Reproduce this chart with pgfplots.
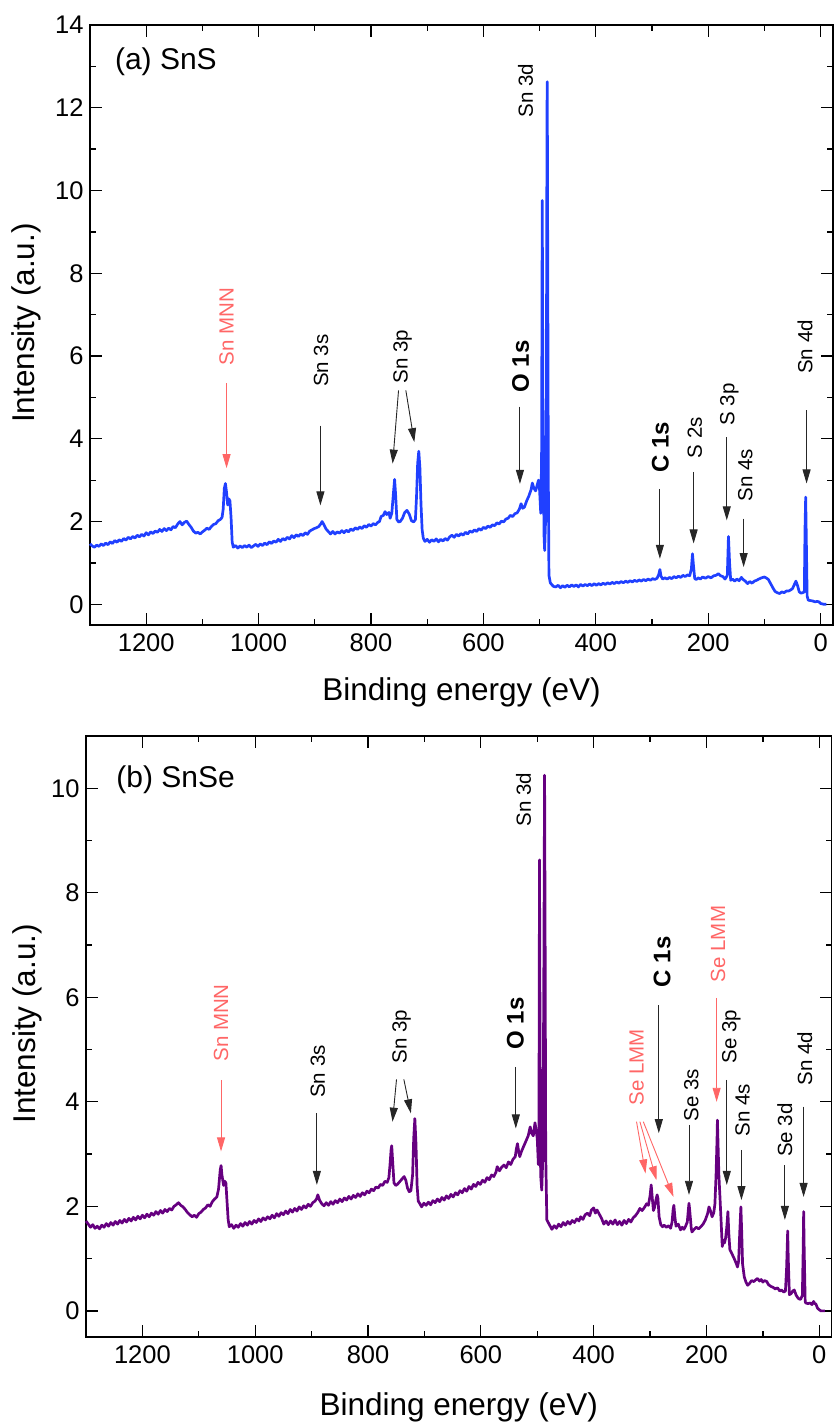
\documentclass[border=0pt]{standalone}
\usepackage{fontspec}
\setmainfont{Liberation Sans}
\usepackage{pgfplots}
\pgfplotsset{compat=1.18}
\usetikzlibrary{arrows.meta}
\definecolor{sblue}{RGB}{32,64,255}
\definecolor{spurple}{RGB}{102,0,128}
\definecolor{sred}{RGB}{255,102,102}
\pgfplotsset{
  xps/.style={
    scale only axis, x dir=reverse, xmin=-22, xmax=1300,
    xtick={0,200,...,1200}, minor x tick num=1, minor y tick num=1,
    tick align=inside, major tick length=12pt, minor tick length=6pt,
    axis line style={line width=1.4pt}, every tick/.style={line width=1.3pt, black},
    /pgf/number format/assume math mode=true,
    /pgf/number format/1000 sep={},
    ticklabel style={font=\fontsize{25.5}{30}\selectfont},
    xticklabel style={yshift=-5pt},
    yticklabel style={xshift=-3pt},
    xlabel={Binding energy (eV)}, ylabel={Intensity (a.u.)},
    label style={font=\fontsize{31.5}{36}\selectfont},
    clip=false,
  },
}
\tikzset{
  ann/.style={rotate=90, anchor=center, inner sep=0pt, font=\fontsize{20.5}{24}\selectfont},
  annb/.style={rotate=90, anchor=center, inner sep=0pt, font=\fontsize{24}{28}\selectfont\bfseries},
  arr/.style={black!85, line width=0.9pt, -{Triangle[length=14pt,width=8pt]}},
  rarr/.style={sred, line width=0.9pt, -{Triangle[length=14pt,width=8pt]}},
}
\begin{document}
\begin{tikzpicture}
\path[use as bounding box] (0pt,0pt) rectangle (834pt,1425pt);
% ---------------- (a) SnS ----------------
\begin{axis}[xps, at={(90pt,800pt)}, anchor=south west, width=743pt, height=600pt,
  ymin=-0.5, ymax=14, ytick={0,2,...,14},
  xlabel style={at={(axis description cs:0.5,-0.113)}, anchor=center},
  ylabel style={at={(axis description cs:-0.085,0.503)}, anchor=center}]
\addplot[sblue, line width=2.7pt, line join=round] table {
1300 1.46
1296 1.41
1292 1.38
1288 1.43
1284 1.40
1280 1.46
1276 1.42
1272 1.48
1268 1.44
1264 1.51
1260 1.47
1256 1.54
1252 1.50
1248 1.56
1244 1.52
1240 1.59
1236 1.55
1232 1.62
1228 1.58
1224 1.64
1220 1.60
1216 1.67
1212 1.63
1208 1.69
1204 1.65
1200 1.73
1196 1.68
1192 1.75
1188 1.71
1184 1.77
1180 1.74
1176 1.81
1172 1.76
1168 1.83
1164 1.78
1160 1.84
1156 1.80
1152 1.88
1148 1.85
1144 1.94
1140 2.00
1136 1.92
1132 1.98
1128 2.01
1124 1.93
1120 1.86
1116 1.77
1112 1.72
1108 1.74
1104 1.70
1100 1.75
1096 1.79
1092 1.84
1088 1.81
1084 1.88
1080 1.93
1076 1.95
1072 2.02
1068 2.05
1065 2.10
1063 2.30
1061 2.80
1059 2.92
1057 2.70
1055 2.40
1053 2.55
1051 2.50
1049 2.10
1047 1.50
1045 1.38
1041 1.42
1037 1.36
1033 1.41
1029 1.37
1025 1.42
1021 1.38
1017 1.43
1013 1.37
1009 1.41
1005 1.45
1001 1.40
997 1.46
993 1.42
989 1.48
985 1.44
981 1.51
977 1.47
973 1.53
969 1.50
965 1.57
961 1.52
957 1.59
953 1.55
949 1.62
945 1.58
941 1.66
937 1.61
933 1.68
929 1.64
925 1.70
921 1.66
917 1.73
913 1.69
909 1.77
905 1.80
901 1.83
897 1.85
893 1.88
889 1.95
887 2.00
884 1.93
880 1.82
876 1.76
872 1.70
868 1.76
864 1.70
860 1.75
856 1.72
852 1.78
848 1.73
844 1.79
840 1.75
836 1.82
832 1.78
828 1.85
824 1.81
820 1.87
816 1.83
812 1.90
808 1.86
804 1.93
800 1.89
796 1.95
792 1.92
788 1.98
785 2.00
782 2.12
778 2.15
775 2.24
772 2.17
768 2.22
766 2.08
763 2.20
760 2.70
758 3.02
756 2.60
754 2.05
751 1.99
748 2.00
744 2.08
740 2.22
736 2.27
732 2.18
728 2.02
724 1.99
721 2.05
719 2.60
717 3.40
715 3.70
713 3.30
711 2.40
709 1.80
707 1.60
704 1.52
700 1.57
696 1.50
692 1.56
688 1.52
684 1.58
680 1.51
676 1.57
672 1.53
668 1.59
664 1.55
660 1.63
656 1.67
652 1.62
648 1.69
644 1.65
640 1.71
636 1.67
632 1.74
628 1.70
624 1.77
620 1.74
616 1.80
612 1.76
608 1.83
604 1.79
600 1.86
596 1.83
592 1.89
588 1.86
584 1.92
580 1.90
576 1.97
572 1.94
568 2.01
564 1.99
560 2.06
556 2.08
552 2.15
548 2.12
544 2.19
540 2.21
536 2.30
533 2.43
530 2.32
527 2.35
523 2.50
519 2.62
515 2.78
513 2.93
510 2.80
507 2.74
504 2.90
502 3.00
500 2.75
498 2.20
496.5 3.50
495.3 9.76
494 4.00
492 1.60
491 1.30
489.5 2.00
488 5.00
486.8 12.00
486.4 12.63
485.5 8.00
484.5 3.00
483.4 0.70
481 0.52
478 0.47
475 0.43
471 0.42
467 0.46
463 0.40
459 0.45
455 0.41
451 0.46
447 0.42
443 0.47
439 0.43
435 0.47
431 0.42
427 0.48
423 0.44
419 0.48
415 0.45
411 0.49
407 0.45
403 0.50
399 0.46
395 0.50
391 0.47
387 0.51
383 0.48
379 0.52
375 0.49
371 0.53
367 0.50
363 0.54
359 0.51
355 0.55
351 0.52
347 0.56
343 0.53
339 0.57
335 0.54
331 0.58
327 0.55
323 0.59
319 0.56
315 0.60
311 0.57
307 0.61
303 0.58
299 0.62
295 0.60
291 0.63
288 0.72
286 0.84
284 0.68
281 0.61
277 0.64
273 0.61
269 0.65
265 0.62
261 0.67
257 0.64
253 0.68
249 0.65
245 0.70
241 0.67
237 0.71
233 0.69
230 0.85
228 1.22
226 0.90
224 0.62
221 0.60
218 0.64
214 0.61
210 0.66
205 0.63
200 0.67
195 0.64
190 0.69
186 0.70
182 0.74
178 0.69
174 0.67
170 0.61
166 0.70
164 1.64
162 1.00
160 0.58
157 0.61
153 0.56
149 0.61
145 0.57
141 0.65
138 0.60
134 0.56
130 0.50
126 0.55
122 0.51
118 0.56
114 0.58
110 0.61
105 0.64
100 0.66
96 0.63
93 0.60
89 0.50
85 0.40
81 0.31
77 0.28
73 0.26
69 0.30
65 0.28
61 0.32
57 0.32
53 0.35
50 0.38
47 0.47
44 0.56
41 0.45
38 0.30
35 0.27
32 0.28
29 0.30
27.8 1.80
26.6 2.59
25.4 1.50
24 0.20
22 0.10
18 0.09
14 0.08
10 0.06
6 0.07
3 0.06
0 0.02
-3 0.01
-6 0.00
-10 0.00
};
\node[anchor=west, font=\fontsize{30}{35}\selectfont] at (rel axis cs:0.029,0.938) {(a) SnS};
% annotations
\node[ann, text=sred] at (axis cs:1057,6.71) {Sn MNN};
\draw[rarr] (axis cs:1057,5.34) -- (axis cs:1057,3.29);
\node[ann] at (axis cs:889,5.89) {Sn 3s};
\draw[arr] (axis cs:890,4.32) -- (axis cs:890,2.39);
\node[ann] at (axis cs:744,5.99) {Sn 3p};
\draw[arr] (axis cs:751,5.17) -- (axis cs:761.5,3.40);
\draw[arr] (axis cs:738,5.17) -- (axis cs:723,3.92);
\node[annb] at (axis cs:534,5.75) {O 1s};
\draw[arr] (axis cs:535,4.78) -- (axis cs:535,2.91);
\node[ann] at (axis cs:525,12.42) {Sn 3d};
\node[annb] at (axis cs:285,3.80) {C 1s};
\draw[arr] (axis cs:286,2.79) -- (axis cs:286,1.10);
\node[ann] at (axis cs:224,4.03) {S 2s};
\draw[arr] (axis cs:226,3.20) -- (axis cs:226,1.47);
\node[ann] at (axis cs:162.6,4.83) {S 3p};
\draw[arr] (axis cs:167,4.04) -- (axis cs:167,2.03);
\node[ann] at (axis cs:134,3.12) {Sn 4s};
\draw[arr] (axis cs:137,2.07) -- (axis cs:137,0.90);
\node[ann] at (axis cs:27.8,6.22) {Sn 4d};
\draw[arr] (axis cs:25,4.69) -- (axis cs:25,2.92);
\end{axis}
% ---------------- (b) SnSe ----------------
\begin{axis}[xps, at={(86pt,88pt)}, anchor=south west, width=745.7pt, height=601pt,
  ymin=-0.5, ymax=11, ytick={0,2,...,10},
  xlabel style={at={(axis description cs:0.5,-0.1165)}, anchor=center},
  ylabel style={at={(axis description cs:-0.079,0.521)}, anchor=center}]
\addplot[spurple, line width=2.7pt, line join=round] table {
1300 1.72
1296 1.66
1292 1.60
1288 1.65
1284 1.58
1280 1.62
1276 1.57
1272 1.64
1268 1.60
1264 1.67
1260 1.62
1256 1.69
1252 1.64
1248 1.71
1244 1.66
1240 1.73
1236 1.68
1232 1.75
1228 1.70
1224 1.77
1220 1.72
1216 1.79
1212 1.74
1208 1.81
1204 1.76
1200 1.83
1196 1.78
1192 1.85
1188 1.80
1184 1.87
1180 1.83
1176 1.90
1172 1.85
1168 1.92
1164 1.87
1160 1.94
1156 1.90
1152 1.96
1148 1.93
1144 2.00
1140 2.03
1136 2.07
1132 2.02
1128 1.99
1124 1.94
1120 1.88
1116 1.84
1112 1.80
1108 1.83
1104 1.79
1100 1.86
1096 1.89
1092 1.94
1088 1.97
1084 2.03
1080 2.00
1076 2.09
1072 2.14
1068 2.18
1065 2.33
1062 2.70
1060.5 2.78
1059 2.60
1056 2.40
1054 2.48
1052 2.45
1050 2.10
1048 1.75
1046 1.61
1042 1.65
1038 1.58
1034 1.64
1030 1.60
1026 1.67
1022 1.62
1018 1.69
1014 1.64
1010 1.71
1006 1.66
1002 1.73
998 1.69
994 1.76
990 1.71
986 1.78
982 1.74
978 1.80
974 1.76
970 1.83
966 1.78
962 1.86
958 1.81
954 1.88
950 1.84
946 1.91
942 1.86
938 1.94
934 1.89
930 1.96
926 1.91
922 1.99
918 1.94
914 2.01
910 1.97
906 2.04
902 2.00
898 2.07
894 2.10
891 2.15
889 2.22
886 2.12
882 2.05
878 2.01
874 2.07
870 2.02
866 2.09
862 2.04
858 2.11
854 2.07
850 2.14
846 2.09
842 2.16
838 2.12
834 2.19
830 2.14
826 2.21
822 2.17
818 2.24
814 2.19
810 2.26
806 2.22
802 2.29
798 2.26
794 2.33
790 2.30
786 2.37
782 2.35
778 2.42
774 2.40
770 2.48
766 2.46
763 2.55
761 2.80
759 3.10
758 3.16
756 2.80
754 2.45
751 2.40
748 2.42
744 2.47
740 2.52
736 2.57
733 2.50
730 2.35
727 2.28
724 2.30
721 2.60
719 3.30
717 3.68
715 3.20
713 2.40
711 2.10
708 2.05
705 1.99
701 2.06
697 2.02
693 2.08
689 2.03
685 2.11
681 2.07
677 2.14
673 2.09
669 2.17
665 2.12
661 2.20
657 2.15
653 2.23
649 2.18
645 2.26
641 2.22
637 2.30
633 2.26
629 2.34
625 2.29
621 2.38
617 2.33
613 2.42
609 2.38
605 2.46
601 2.42
597 2.50
593 2.46
589 2.55
585 2.51
581 2.60
577 2.57
573 2.66
571 2.76
567 2.68
563 2.75
559 2.79
555 2.74
551 2.85
547 2.80
543 2.90
539 2.95
537 3.10
535 3.20
533 3.05
531 2.95
528 3.05
524 3.15
520 3.25
516 3.35
512.5 3.52
510 3.40
507 3.35
504 3.60
502 3.45
500 3.30
498 2.80
497 3.50
496 8.63
495 5.00
494 2.60
492 2.31
490 3.00
488.5 6.00
487 10.25
486 7.00
485 3.00
483 1.74
480 1.68
477 1.62
474 1.56
470 1.63
466 1.58
462 1.66
458 1.61
454 1.69
450 1.64
446 1.71
442 1.66
438 1.73
434 1.69
430 1.76
426 1.72
423 1.80
419 1.75
415 1.84
411 1.87
407 1.82
404 1.93
400 1.97
397 1.87
394 1.93
390 1.85
386 1.77
382 1.66
378 1.72
374 1.65
370 1.72
366 1.66
362 1.74
358 1.65
354 1.71
350 1.64
346 1.73
342 1.67
338 1.75
334 1.70
330 1.78
326 1.82
322 1.88
318 1.96
314 1.92
310 1.98
306 2.05
303 2.02
300 2.20
298 2.41
296 2.15
294 1.92
292 1.98
290 2.10
287.5 2.22
286 2.15
284 1.80
281 1.65
278 1.61
275 1.64
271 1.60
267 1.63
263.6 1.58
261 1.70
259 1.95
257.8 2.02
256 1.80
254 1.62
250 1.66
246 1.55
243 1.60
240 1.56
237 1.62
234 1.70
232 1.95
231 2.06
229.5 1.90
227 1.58
225.7 1.51
222 1.56
218 1.60
214 1.57
210 1.61
206 1.66
202 1.74
198 1.86
195.6 1.99
193 1.92
190 1.80
187 1.88
185 2.05
183 2.60
181 3.40
180.6 3.65
179.5 3.20
178 2.60
176 2.16
174 1.70
172 1.23
170 1.35
168 1.30
166 1.40
164 1.60
162 1.90
160.5 1.50
158.5 1.17
156 1.12
153 1.05
150 0.98
147 0.90
145 0.84
143 0.95
141 1.50
139 1.99
137.5 1.50
136 0.90
133 0.65
130 0.55
127 0.49
124 0.52
120 0.58
116 0.56
112 0.60
109.5 0.62
106 0.57
103 0.60
100 0.55
97 0.58
93 0.56
90 0.50
86 0.47
82 0.45
78 0.42
74 0.44
70 0.38
67 0.40
63 0.36
60 0.38
58 0.80
56 1.53
55 1.00
53 0.31
50 0.33
47 0.38
44.4 0.40
41 0.30
38 0.25
36 0.23
33 0.22
30 0.30
28.5 1.20
27.7 1.90
26.8 1.20
25 0.18
24 0.15
20 0.14
16 0.15
13 0.12
10 0.18
8 0.14
6 0.13
3 0.05
0 0.02
-3 0.00
-10 0.00
};
\node[anchor=west, font=\fontsize{30}{35}\selectfont] at (rel axis cs:0.036,0.927) {(b) SnSe};
% annotations
\node[ann, text=sred] at (axis cs:1060.6,5.51) {Sn MNN};
\draw[rarr] (axis cs:1060.6,4.42) -- (axis cs:1060.6,3.05);
\node[ann] at (axis cs:889,4.58) {Sn 3s};
\draw[arr] (axis cs:890.7,3.78) -- (axis cs:890.7,2.41);
\node[ann] at (axis cs:740.6,5.25) {Sn 3p};
\draw[arr] (axis cs:749.5,4.43) -- (axis cs:756.6,3.62);
\draw[arr] (axis cs:736.5,4.43) -- (axis cs:724,3.78);
\node[annb] at (axis cs:539,5.50) {O 1s};
\draw[arr] (axis cs:538,4.67) -- (axis cs:538,3.49);
\node[ann] at (axis cs:524.4,9.78) {Sn 3d};
\node[annb] at (axis cs:278.5,6.68) {C 1s};
\draw[arr] (axis cs:284.5,5.85) -- (axis cs:284.5,3.40);
\node[ann, text=sred] at (axis cs:179.6,7.02) {Se LMM};
\draw[rarr] (axis cs:182,5.99) -- (axis cs:182,4.00);
\node[ann, text=sred] at (axis cs:324,4.66) {Se LMM};
\draw[rarr] (axis cs:324,3.62) -- (axis cs:308,2.63);
\draw[rarr] (axis cs:318,3.62) -- (axis cs:288.6,2.50);
\draw[rarr] (axis cs:312,3.62) -- (axis cs:258.4,2.18);
\node[ann] at (axis cs:226.8,4.13) {Se 3s};
\draw[arr] (axis cs:231,3.56) -- (axis cs:231,2.22);
\node[ann] at (axis cs:155.7,5.25) {Se 3p};
\draw[arr] (axis cs:164,4.42) -- (axis cs:164,2.41);
\node[ann] at (axis cs:136,3.84) {Sn 4s};
\draw[arr] (axis cs:138,3.08) -- (axis cs:138,2.12);
\node[ann] at (axis cs:61,3.46) {Se 3d};
\draw[arr] (axis cs:61,2.79) -- (axis cs:61,1.74);
\node[ann] at (axis cs:25.6,4.83) {Sn 4d};
\draw[arr] (axis cs:27.8,3.91) -- (axis cs:27.8,2.18);
\end{axis}
\end{tikzpicture}
\end{document}
